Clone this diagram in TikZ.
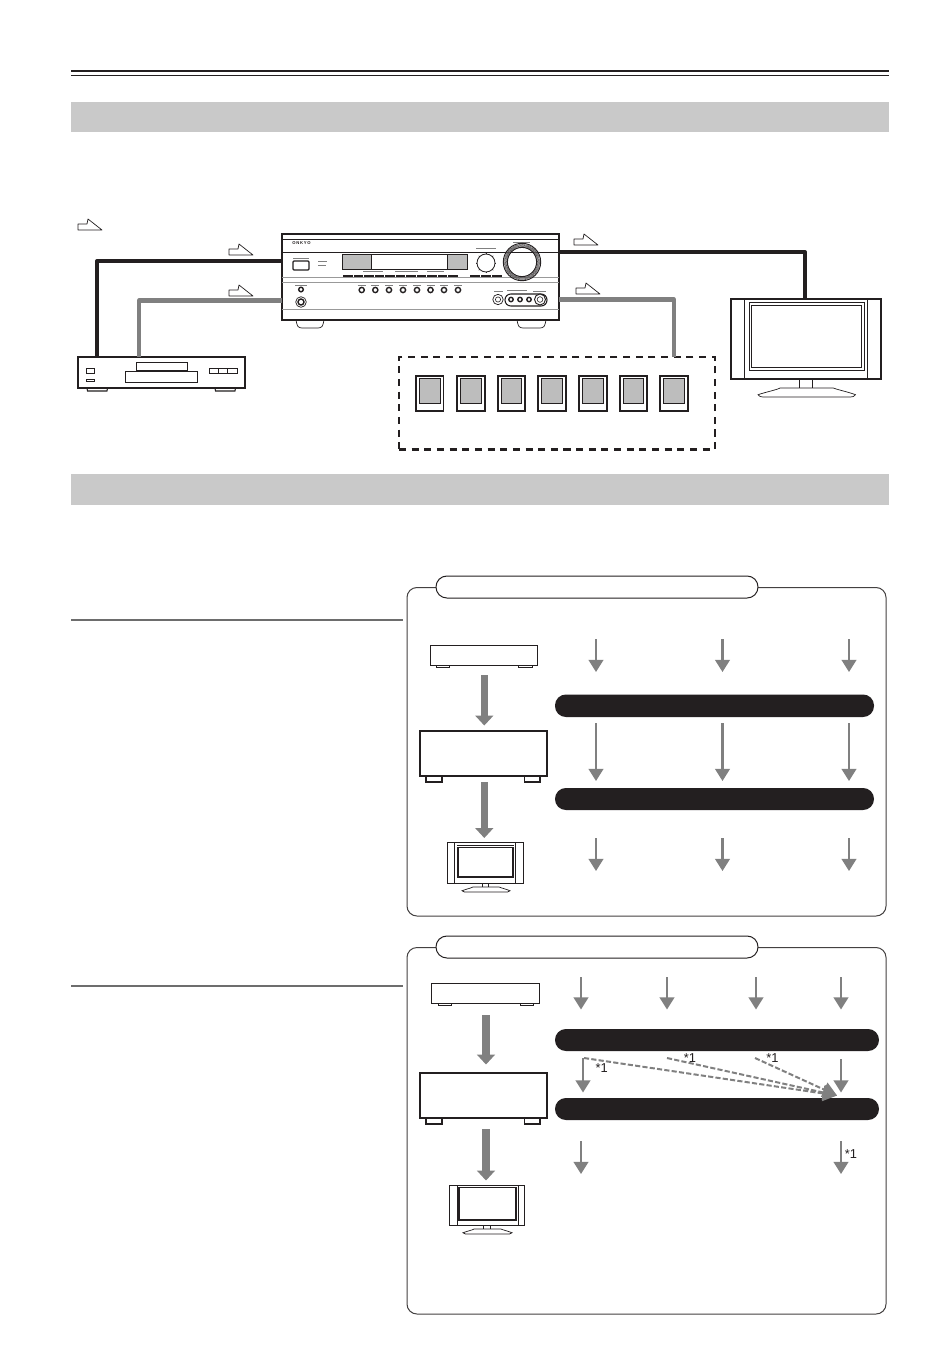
\documentclass[tikz,border=0pt]{standalone}
\usepackage{fontspec}
\setmainfont{Liberation Sans}
\usetikzlibrary{arrows.meta,calc}
\definecolor{ink}{HTML}{231F20}
\definecolor{midgray}{HTML}{808080}
\definecolor{band}{HTML}{C9C9C9}
\definecolor{cone}{HTML}{BDBDBD}
\tikzset{
  x=0.03cm,y=-0.03cm,
  boxnode/.style={rectangle,inner sep=0pt,outer sep=0pt},
  devthick/.style={boxnode,draw=ink,line width=1.5pt,fill=white},
  devthin/.style={boxnode,draw=ink,line width=0.8pt,fill=white},
  bandbox/.style={boxnode,fill=band},
  panelbox/.style={boxnode,draw=ink!85,line width=0.85pt,rounded corners=8.5pt,fill=white},
  pillwhite/.style={boxnode,draw=ink,line width=0.85pt,rounded corners=9.3pt,fill=white},
  pillblack/.style={boxnode,fill=ink,rounded corners=9.3pt},
  dashbox/.style={boxnode,draw=ink,line width=2pt,dash pattern=on 6pt off 4.8pt},
  spk/.style={boxnode,draw=ink,line width=1.7pt,fill=white},
  blackcable/.style={draw=ink,line width=3.5pt,line join=round},
  graycable/.style={draw=midgray,line width=3.5pt,line join=round},
  smallarrow/.style={draw=midgray,line width=1.9pt,-{Triangle[length=10.4pt,width=12.5pt]}},
  bigarrow/.style={draw=midgray,line width=6.2pt,-{Triangle[length=8.4pt,width=15pt]}},
  dasharrow/.style={draw=midgray,line width=1.7pt,dash pattern=on 4.4pt off 1.9pt,-{Triangle[length=12pt,width=13pt]}},
  stepmark/.style={draw=ink,line width=0.6pt,fill=white,line join=round},
  star/.style={inner sep=0pt,font=\fontsize{11pt}{12pt}\selectfont,text=ink},
  thinline/.style={draw=ink,line width=0.6pt},
  grayrule/.style={draw=midgray!80,line width=0.8pt},
  tinylabel/.style={draw=midgray,line width=0.35pt}
}
% style, name, x1, y1, x2, y2
\newcommand{\bx}[6]{%
  \pgfmathsetmacro{\bw}{(#5-#3)*0.03}%
  \pgfmathsetmacro{\bh}{(#6-#4)*0.03}%
  \node[#1,anchor=north west,minimum width=\bw cm,minimum height=\bh cm] (#2) at (#3,#4) {};}
% style, name, x1, ystart, x2, yend
\newcommand{\arw}[6]{%
  \coordinate (#2s) at (#3,#4);\coordinate (#2e) at (#5,#6);
  \draw[#1] (#2s) -- (#2e);}
% x, y of bottom-left corner
\newcommand{\stepm}[2]{%
  \draw[stepmark] (#1,#2) -- ++(0,-6) -- ++(9,0) -- ++(1,-5) -- ++(14,11) -- cycle;}
\newcommand{\tvbase}[4]{%
  \begin{scope}[shift={(#1,#3)},xscale=(#2-#1)/97,yscale=(#4-#3)/9]
    \draw[thinline,fill=white] (0,6.7) .. controls (8,4) and (18,2) .. (22,0) -- (75,0) .. controls (80,2) and (90,4) .. (97,6.7) .. controls (96,8.5) and (94,9) .. (92,9) -- (5,9) .. controls (3,9) and (1,8.5) .. (0,6.7) -- cycle;
  \end{scope}}
\begin{document}
\begin{tikzpicture}
\useasboundingbox (0,0) rectangle (950,1359);
\fill[white] (0,0) rectangle (950,1359);
% top rules
\coordinate (ruleL) at (71,71);\coordinate (ruleR) at (889,71);
\draw[ink,line width=2.4pt] (ruleL) -- (ruleR);
\draw[ink,line width=0.7pt] (71,75.5) -- (889,75.5);
\bx{bandbox}{bandA}{71}{102}{889}{132}
\bx{bandbox}{bandB}{71}{474}{889}{505}
% step marks
\stepm{78}{230}\stepm{229}{255}\stepm{229}{296}\stepm{574}{245}\stepm{576}{294}
% ---- receiver
\bx{devthick,line width=1pt}{rcv}{282}{234}{559}{320}
\draw[thinline] (296,320) .. controls (297,326) and (298,328) .. (302,328) -- (318,328) .. controls (322,328) and (323,326) .. (324,320);
\draw[thinline] (517,320) .. controls (518,326) and (519,328) .. (523,328) -- (540,328) .. controls (544,328) and (545,326) .. (546,320);
\draw[thinline] (282,239) -- (559,239);
\draw[thinline] (282,252) -- (559,252);
\draw[grayrule] (282,277.5) -- (559,277.5);
\draw[grayrule] (282,282) -- (559,282);
\draw[grayrule] (282,309) -- (559,309);
\node[inner sep=0pt,font=\bfseries\fontsize{3.6pt}{4pt}\selectfont,text=ink] (onkyo) at (301.5,243) {O\,N\,K\,Y\,O};
\draw[tinylabel] (513,242.5) -- (530,242.5);
\draw[ink,line width=1.1pt,rounded corners=0.8pt,fill=white] (293,261) rectangle (309,270);
\draw[tinylabel] (293,258) -- (309,258);
\draw[tinylabel] (318,261) -- (327,261);\draw[tinylabel] (318,265.5) -- (326,265.5);
% display
\draw[ink,line width=0.7pt,fill=cone] (342,254) rectangle (467,269);
\draw[ink,line width=0.7pt,fill=white] (371,254) rectangle (447,269);
% front buttons
\foreach \xa in {343,353.5,364,374.5,385,395.5,406,416.5,427,437.5,448} {
  \fill[ink] (\xa,275) rectangle ++(9.8,2.4);}
\foreach \xa in {470,481,492} {\fill[ink] (\xa,275) rectangle ++(10,2.4);}
\draw[tinylabel] (363,271.5) -- (383,271.5);\draw[tinylabel] (395,271.5) -- (418,271.5);\draw[tinylabel] (427,271.5) -- (444,271.5);
% dials
\draw[tinylabel] (476,248.5) -- (496,248.5);
\draw[ink,line width=0.7pt] (486,263) circle (9);
\foreach \a in {0,45,...,315} {\draw[ink,line width=0.4pt] ($(486,263)+(\a:9)$) -- ($(486,263)+(\a:10.3)$);}
\draw[ink,line width=0.8pt] (522,262) circle (18.7);
\draw[ink!75,line width=2.7pt,dash pattern=on 0.4pt off 0.4pt] (522,262) circle (16.6);
\draw[ink,line width=0.8pt] (522,262) circle (14.6);
% jacks
\foreach \xa in {361.7,375.3,389,403,417,430.5,444,458} {
  \draw[tinylabel] (\xa-4,285) -- (\xa+4,285);
  \draw[ink,line width=1.2pt,fill=white] (\xa,290) circle (2.6);}
\draw[tinylabel] (295,285) -- (307,285);
\draw[ink,line width=1.2pt,fill=white] (301,289.5) circle (2.3);
\draw[ink,line width=0.6pt] (301,302) circle (5.3);
\draw[ink,line width=1.2pt,fill=white] (301,302) circle (3);
\draw[tinylabel] (494,291.5) -- (503,291.5);\draw[tinylabel] (507,290.5) -- (527,290.5);\draw[tinylabel] (533,291.5) -- (546,291.5);
\draw[ink,line width=0.6pt] (498,299.5) circle (5.2);
\draw[ink,line width=0.5pt] (498,299.5) circle (2.6);
\draw[ink,line width=0.9pt,rounded corners=5pt] (505,294) rectangle (547,306);
\foreach \xa in {511,520,529} {\draw[ink,line width=1.2pt,fill=white] (\xa,299.5) circle (2.2);}
\draw[ink,line width=0.8pt,fill=white] (540,299.5) circle (5.5);
\draw[ink,line width=0.5pt] (540,299.5) circle (2.8);
% ---- CD player
\bx{devthick,line width=1.3pt}{cd}{78}{357}{245}{388}
\bx{devthin,line width=0.6pt}{cdA}{136}{362}{187}{370}
\bx{devthin,line width=0.6pt}{cdB}{125}{371}{197}{382}
\bx{devthin,line width=0.6pt}{cdC}{86}{368}{94}{373}
\bx{devthin,line width=0.6pt}{cdD}{86}{379.5}{94}{381.5}
\bx{devthin,line width=0.6pt}{cdE}{209}{368}{218}{373}
\bx{devthin,line width=0.6pt}{cdF}{218}{368}{227.500}{373}
\bx{devthin,line width=0.6pt}{cdG}{227.500}{368}{237}{373}
\draw[ink,line width=0.9pt] (87,388) -- (87.5,391) -- (107,391) -- (107.5,388);
\draw[ink,line width=0.9pt] (215,388) -- (215.5,391) -- (235,391) -- (235.5,388);
% ---- large TV
\bx{devthick}{tvA}{731}{299}{881}{379}
\draw[thinline,line width=0.8pt] (744,299) -- (744,379);
\draw[thinline,line width=0.8pt] (867,299) -- (867,379);
\draw[ink,line width=0.8pt] (749,302.500) rectangle (864,370);
\draw[ink,line width=0.8pt] (751.500,305.500) rectangle (861,367);
\draw[ink,line width=0.8pt] (799,379) -- (799,388);
\draw[ink,line width=0.8pt] (812,379) -- (812,388);
\tvbase{758}{855.500}{388}{397}
% ---- speakers
\bx{dashbox}{spkbox}{399}{357}{715}{449.500}
\foreach \xa/\nm in {416/a,457/b,497.500/c,538/d,579/e,619.500/f,660/g} {
  \bx{spk}{spk\nm}{\xa}{376}{\xa+27.500}{411}
  \draw[ink,line width=0.6pt,fill=cone] (\xa+3.7,378.500) rectangle (\xa+24,403);
}
% ---- cables
\coordinate (cA) at (97,261);\coordinate (cB) at (139,300.500);
\coordinate (cC) at (805,252);\coordinate (cD) at (674,299.500);
\draw[blackcable] (rcv.west |- cA) -- (cA) -- (cA |- cd.north);
\draw[graycable] (rcv.west |- cB) -- (cB) -- (cB |- cd.north);
\draw[blackcable] (rcv.east |- cC) -- (cC) -- (cC |- tvA.north);
\draw[graycable] (rcv.east |- cD) -- (cD) -- (cD |- spkbox.north);
% ---- section rules
\coordinate (ruleA) at (71,620);\coordinate (ruleB) at (71,986);
\draw[draw=midgray!85!black,line width=1.9pt] (ruleA) -- (403,620);
\draw[draw=midgray!85!black,line width=1.9pt] (ruleB) -- (403,986);
% ---- panel 1
\bx{panelbox}{panelA}{407}{587.500}{886}{916}
\bx{pillwhite}{pillA}{436}{576}{758}{598}
\bx{devthin}{srcA}{430}{645}{537}{665}
\draw[ink,line width=0.6pt] (436,665) -- (436,667.500) -- (449,667.500) -- (449,665);
\draw[ink,line width=0.6pt] (518.500,665) -- (518.500,667.500) -- (532,667.500) -- (532,665);
\bx{devthick}{ampA}{420}{731}{547}{776}
\draw[ink,line width=0.9pt] (426,776) -- (426,782) -- (442,782) -- (442,776);
\draw[ink,line width=0.9pt] (524.500,776) -- (524.500,782) -- (540,782) -- (540,776);
\arw{bigarrow}{pa}{484.300}{675}{484.300}{725.500}
\arw{bigarrow}{pb}{484.300}{782}{484.300}{838}
% small TV 1
\bx{devthin,line width=0.5pt}{tvB}{447}{842}{523}{883}
\draw[ink,line width=0.5pt] (454,842) -- (454,883);
\draw[ink,line width=0.5pt] (515,842) -- (515,883);
\draw[ink,line width=0.5pt] (457,845) -- (514,845);
\draw[ink,line width=1.3pt] (458,847.500) rectangle (513,877);
\draw[ink,line width=0.5pt] (482,883) -- (482,887);\draw[ink,line width=0.5pt] (488,883) -- (488,887);
\tvbase{462}{510}{887}{892}
% small arrows panel 1
\foreach \xa/\nm in {596/a,722.500/b,849/c} {
  \arw{smallarrow}{ra\nm}{\xa}{639}{\xa}{672}
  \arw{smallarrow}{rb\nm}{\xa}{723}{\xa}{781}
  \arw{smallarrow}{rc\nm}{\xa}{838}{\xa}{871}
}
\bx{pillblack}{barA}{555}{694.500}{874}{717}
\bx{pillblack}{barB}{555}{788}{874}{810}
% ---- panel 2
\bx{panelbox}{panelB}{407}{947.500}{886}{1314}
\bx{pillwhite}{pillB}{436}{936}{758}{958}
\bx{devthin}{srcB}{431}{983}{539}{1003}
\draw[ink,line width=0.6pt] (438,1003) -- (438,1005.500) -- (451,1005.500) -- (451,1003);
\draw[ink,line width=0.6pt] (520,1003) -- (520,1005.500) -- (533,1005.500) -- (533,1003);
\bx{devthick}{ampB}{420}{1073}{547}{1118}
\draw[ink,line width=0.9pt] (426,1118) -- (426,1124) -- (442,1124) -- (442,1118);
\draw[ink,line width=0.9pt] (524.500,1118) -- (524.500,1124) -- (540,1124) -- (540,1118);
\arw{bigarrow}{pc}{486}{1015}{486}{1064.500}
\arw{bigarrow}{pd}{486}{1129}{486}{1180.500}
% small TV 2
\bx{devthin,line width=0.5pt}{tvC}{449}{1185}{524}{1225}
\draw[ink,line width=0.5pt] (457,1185) -- (457,1225);
\draw[ink,line width=0.5pt] (518,1185) -- (518,1225);
\draw[ink,line width=1.3pt] (459,1187.500) rectangle (516,1220);
\draw[ink,line width=0.5pt] (483.500,1225) -- (483.500,1229);\draw[ink,line width=0.5pt] (490,1225) -- (490,1229);
\tvbase{463}{512}{1229}{1234}
\foreach \xa/\nm in {581/a,667/b,756/c,841/d} {
  \arw{smallarrow}{sa\nm}{\xa}{977}{\xa}{1009.500}
}
\bx{pillblack}{barC}{555}{1029}{879}{1051}
\bx{pillblack}{barD}{555}{1098}{879}{1120}
\arw{smallarrow}{sba}{583}{1058}{583}{1092.500}
\arw{smallarrow}{sbd}{841}{1059}{841}{1092.500}
\arw{smallarrow}{sca}{581}{1141}{581}{1174}
\arw{smallarrow}{scd}{841}{1141}{841}{1174}
% dashed arrows
\coordinate (dtip) at (837,1095.500);
\coordinate (dA) at (584,1058);\coordinate (dB) at (667,1058);\coordinate (dC) at (755,1058);
\draw[dasharrow] (dA) -- (dtip);
\draw[dasharrow] (dB) -- (dtip);
\draw[dasharrow] (dC) -- (dtip);
\node[star] (stA) at (601.700,1068.500) {*1};
\node[star] (stB) at (690,1058.500) {*1};
\node[star] (stC) at (772.500,1058.500) {*1};
\node[star] (stD) at (851,1154.500) {*1};
\end{tikzpicture}
\end{document}
